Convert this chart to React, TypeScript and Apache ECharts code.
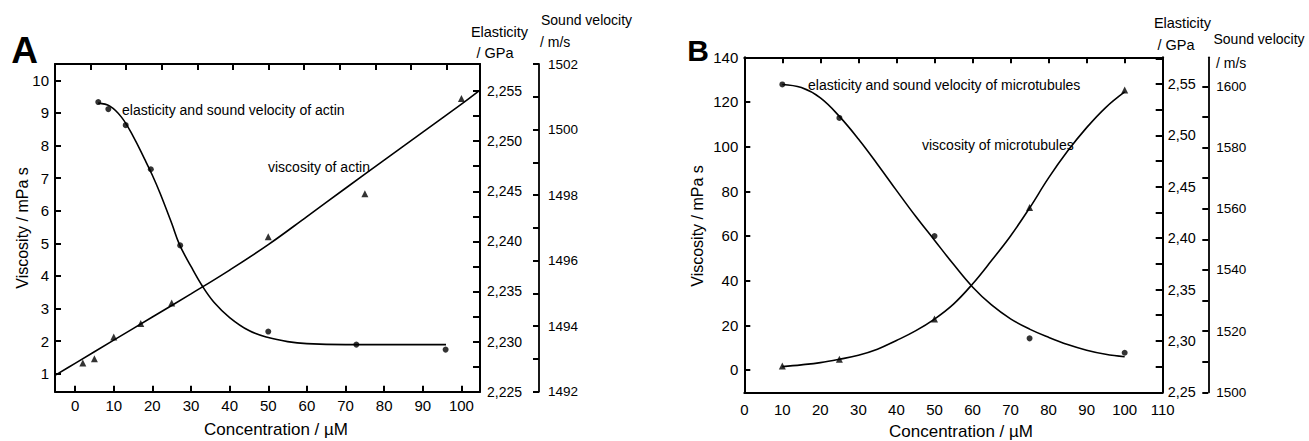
import React, { useEffect, useRef } from "react";
import * as echarts from "echarts";

// ---------- Panel A (actin) ----------
const actinElastConc = [6, 8.6, 13.1, 19.6, 27.2, 50, 72.8, 95.9];
const actinElastVals = [2.2539, 2.2532, 2.2516, 2.2472, 2.2396, 2.231, 2.2297, 2.2292];
const actinElastFitX = [6, 9, 12, 15, 18, 20, 22, 25, 27, 30, 33, 36, 40, 45, 50, 55, 60, 70, 80, 96];
const actinElastFitY = [2.2538, 2.2535, 2.2524, 2.2505, 2.2482, 2.2466, 2.2448, 2.2418, 2.2397, 2.2375, 2.2355, 2.2339, 2.2324, 2.2311, 2.2304, 2.23, 2.2298, 2.2297, 2.2297, 2.2297];
const actinViscConc = [2, 5, 10, 17, 25, 50, 75, 100];
const actinViscVals = [1.33, 1.46, 2.13, 2.54, 3.17, 5.2, 6.52, 9.44];
const actinViscFitX = [-5.2, 0, 10, 20, 30, 40, 50, 60, 70, 80, 90, 100, 104.8];
const actinViscFitY = [0.95, 1.32, 2.03, 2.74, 3.45, 4.18, 4.96, 5.82, 6.69, 7.55, 8.41, 9.27, 9.7];

const xTicksA = [0, 10, 20, 30, 40, 50, 60, 70, 80, 90, 100];
const topTicksA = [1, 2, 3, 4, 5, 6, 7, 8, 9, 10, 11];
const viscTicksA = [1, 2, 3, 4, 5, 6, 7, 8, 9, 10];
const elastLabelsA = [2.225, 2.23, 2.235, 2.24, 2.245, 2.25, 2.255];
const elastTicksA = [2.225, 2.2275, 2.23, 2.2325, 2.235, 2.2375, 2.24, 2.2425, 2.245, 2.2475, 2.25, 2.2525, 2.255];
const soundLabelsA = [1492, 1494, 1496, 1498, 1500, 1502];
const soundTicksA = [1492, 1493, 1494, 1495, 1496, 1497, 1498, 1499, 1500, 1501, 1502];

// ---------- Panel B (microtubules) ----------
const mtConc = [10, 25, 50, 75, 100];
const mtElastVals = [2.5496, 2.517, 2.402, 2.3025, 2.2885];
const mtViscVals = [1.8, 4.8, 22.8, 72.8, 125.4];
const mtFitX = [10, 15, 20, 25, 30, 35, 40, 45, 50, 55, 60, 65, 70, 75, 80, 85, 90, 95, 100];
const mtElastFitY = [2.5496, 2.5465, 2.5365, 2.5185, 2.4965, 2.472, 2.4465, 2.4215, 2.398, 2.3745, 2.3525, 2.335, 2.3215, 2.3115, 2.3035, 2.2965, 2.291, 2.287, 2.2846];
const mtViscFitY = [1.5, 2.3, 3.3, 4.8, 6.6, 9.3, 13.2, 17.5, 22.8, 29.5, 38.5, 49, 60, 72.5, 86, 98, 108.5, 117.5, 124.5];

const xTicksB = [0, 10, 20, 30, 40, 50, 60, 70, 80, 90, 100, 110];
const topTicksB = [10, 20, 30, 40, 50, 60, 70, 80, 90, 100];
const viscTicksB = [0, 20, 40, 60, 80, 100, 120, 140];
const elastLabelsB = [2.25, 2.3, 2.35, 2.4, 2.45, 2.5, 2.55];
const elastTicksB = [2.25, 2.275, 2.3, 2.325, 2.35, 2.375, 2.4, 2.425, 2.45, 2.475, 2.5, 2.525, 2.55, 2.575];
const soundLabelsB = [1500, 1520, 1540, 1560, 1580, 1600];
const soundTicksB = [1500, 1510, 1520, 1530, 1540, 1550, 1560, 1570, 1580, 1590, 1600];

// axis extents
const A_X: [number, number] = [-5.2, 104.8];
const A_TOP: [number, number] = [0, 11.94];
const A_VISC: [number, number] = [0.45, 10.5];
const A_EL: [number, number] = [2.225, 2.2577];
const A_SV: [number, number] = [1492, 1502];
const B_X: [number, number] = [0, 110];
const B_VISC: [number, number] = [-10, 140];
const B_EL: [number, number] = [2.25, 2.576];
const B_SV: [number, number] = [1500, 1609.5];

const FONT = "Liberation Sans, Arial, Helvetica, sans-serif";

const zip = (xs: number[], ys: number[]) => xs.map((x, i) => [x, ys[i]]);

function axis(o: any) {
  const { ext, labels, ticks, tickLen = 6, fontSize = 15, margin = 6, showLabel = true, formatter, lineWidth = 2, ...rest } = o;
  return {
    type: "value",
    min: ext[0],
    max: ext[1],
    splitLine: { show: false },
    axisLine: { show: true, onZero: false, lineStyle: { color: "#000", width: lineWidth } },
    axisTick: {
      show: !!ticks,
      inside: true,
      length: tickLen,
      customValues: ticks,
      lineStyle: { color: "#000", width: 2 },
    },
    axisLabel: {
      show: showLabel,
      customValues: labels,
      fontSize,
      fontFamily: FONT,
      color: "#000",
      margin,
      formatter: formatter || ((v: number) => String(v)),
    },
    ...rest,
  };
}

function txt(text: string, x: number, y: number, fontSize: number, align = "left", extra: any = {}) {
  return {
    type: "text",
    x,
    y,
    rotation: extra.rotation || 0,
    style: {
      text,
      fontSize,
      fontFamily: FONT,
      fontWeight: extra.bold ? "bold" : "normal",
      fill: "#000",
      align,
      textAlign: align,
      verticalAlign: "middle",
      textVerticalAlign: "middle",
    },
  };
}

export default function App() {
  const ref = useRef<HTMLDivElement>(null);
  useEffect(() => {
    if (!ref.current) return;
    const chart = echarts.init(ref.current, null, { renderer: "svg" });
    const lineStyle = { color: "#000", width: 1.6 };
    const fit = { type: "line", smooth: 0.4, showSymbol: false, lineStyle, silent: true };
    const option: any = {
      animation: false,
      backgroundColor: "#fff",
      grid: [
        { left: 55, top: 64, width: 425, height: 327.7 },
        { left: 744.3, top: 57.3, width: 418.4, height: 335 },
      ],
      xAxis: [
        axis({ gridIndex: 0, ext: A_X, labels: xTicksA, ticks: xTicksA, margin: 6 }),
        axis({ gridIndex: 0, position: "top", ext: A_TOP, labels: [], ticks: topTicksA, showLabel: false }),
        axis({ gridIndex: 1, ext: B_X, labels: xTicksB, margin: 10 }),
        axis({ gridIndex: 1, position: "top", ext: B_X, labels: [], ticks: topTicksB, showLabel: false }),
      ],
      yAxis: [
        axis({ gridIndex: 0, ext: A_VISC, labels: viscTicksA, ticks: viscTicksA, margin: 6 }),
        axis({
          gridIndex: 0, position: "right", ext: A_EL, labels: elastLabelsA, ticks: elastTicksA, tickLen: 7, fontSize: 14, margin: 7,
          formatter: (v: number) => v.toFixed(3).replace(".", ","),
        }),
        axis({ gridIndex: 0, position: "right", offset: 59, ext: A_SV, labels: soundLabelsA, ticks: soundTicksA, fontSize: 13.5, margin: 9, lineWidth: 1.8 }),
        axis({ gridIndex: 1, ext: B_VISC, labels: viscTicksB, ticks: viscTicksB, margin: 6 }),
        axis({
          gridIndex: 1, position: "right", ext: B_EL, labels: elastLabelsB, ticks: elastTicksB, tickLen: 7, fontSize: 14.4, margin: 5,
          formatter: (v: number) => v.toFixed(2).replace(".", ","),
        }),
        axis({ gridIndex: 1, position: "right", offset: 45.6, ext: B_SV, labels: soundLabelsB, ticks: soundTicksB, fontSize: 13.5, margin: 8, lineWidth: 1.8 }),
      ],
      series: [
        { ...fit, xAxisIndex: 0, yAxisIndex: 1, data: zip(actinElastFitX, actinElastFitY) },
        { type: "scatter", xAxisIndex: 0, yAxisIndex: 1, data: zip(actinElastConc, actinElastVals), symbol: "circle", symbolSize: 6, itemStyle: { color: "#000" }, z: 4 },
        { ...fit, xAxisIndex: 0, yAxisIndex: 0, data: zip(actinViscFitX, actinViscFitY) },
        { type: "scatter", xAxisIndex: 0, yAxisIndex: 0, data: zip(actinViscConc, actinViscVals), symbol: "triangle", symbolSize: 7, itemStyle: { color: "#000" }, z: 4 },
        { ...fit, xAxisIndex: 2, yAxisIndex: 4, data: zip(mtFitX, mtElastFitY) },
        { type: "scatter", xAxisIndex: 2, yAxisIndex: 4, data: zip(mtConc, mtElastVals), symbol: "circle", symbolSize: 6, itemStyle: { color: "#000" }, z: 4 },
        { ...fit, xAxisIndex: 2, yAxisIndex: 3, data: zip(mtFitX, mtViscFitY) },
        { type: "scatter", xAxisIndex: 2, yAxisIndex: 3, data: zip(mtConc, mtViscVals), symbol: "triangle", symbolSize: 7, itemStyle: { color: "#000" }, z: 4 },
      ],
      graphic: [
        txt("A", 24.5, 50, 37, "center", { bold: true }),
        txt("Elasticity", 499.5, 32, 14.5, "center"),
        txt("/ GPa", 495, 53, 14.5, "center"),
        txt("Sound velocity", 586.5, 20, 14, "center"),
        txt("/ m/s", 540, 42, 14, "left"),
        txt("elasticity and sound velocity of actin", 122, 110, 14, "left"),
        txt("viscosity of actin", 268, 167, 14, "left"),
        txt("Viscosity / mPa s", 22, 228, 16, "center", { rotation: Math.PI / 2 }),
        txt("Concentration / µM", 276, 429, 17, "center"),

        txt("B", 698, 50, 30, "center", { bold: true }),
        txt("Elasticity", 1182.5, 23, 14.5, "center"),
        txt("/ GPa", 1176, 45, 14.5, "center"),
        txt("Sound velocity", 1259, 39, 14, "center"),
        txt("/ m/s", 1216, 63, 14, "left"),
        txt("elasticity and sound velocity of microtubules", 808, 85, 14, "left"),
        txt("viscosity of microtubules", 922, 145, 14, "left"),
        txt("Viscosity / mPa s", 697, 226, 16, "center", { rotation: Math.PI / 2 }),
        txt("Concentration / µM", 961, 431.7, 17, "center"),
      ],
    };
    chart.setOption(option);
    return () => chart.dispose();
  }, []);
  return (
    <div
      ref={ref}
      style={{ position: "fixed", left: 0, top: 0, width: 1309, height: 441, background: "#fff" }}
    />
  );
}
